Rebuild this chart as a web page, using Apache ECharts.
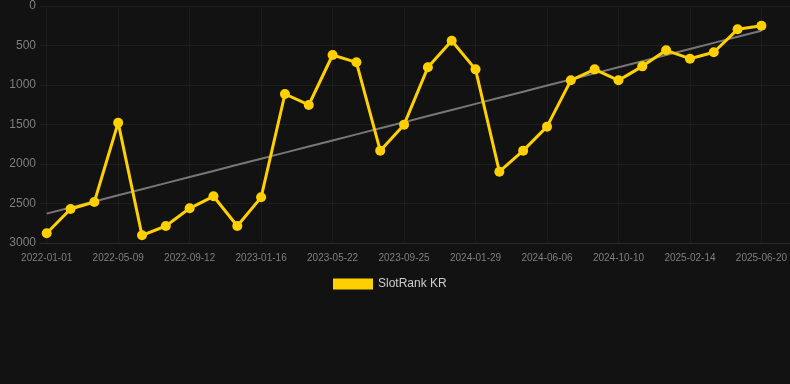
<!DOCTYPE html>
<html>
<head>
<meta charset="utf-8">
<script src="https://cdn.jsdelivr.net/npm/echarts@6/dist/echarts.min.js"></script>
<style>
html,body{margin:0;padding:0;background:#121212;}
#chart{width:790px;height:384px;}
</style>
</head>
<body>
<div id="chart"></div>
<script>
var dates = [
  '2022-01-01','2022-02-13','2022-03-27','2022-05-09','2022-06-20','2022-08-01',
  '2022-09-12','2022-10-24','2022-12-05','2023-01-16','2023-02-27','2023-04-10',
  '2023-05-22','2023-07-03','2023-08-14','2023-09-25','2023-11-06','2023-12-18',
  '2024-01-29','2024-03-12','2024-04-24','2024-06-06','2024-07-18','2024-08-29',
  '2024-10-10','2024-11-21','2025-01-03','2025-02-14','2025-03-28','2025-05-09',
  '2025-06-20'
];
var ranks = [
  2877, 2570, 2481, 1477, 2903, 2785,
  2561, 2409, 2785, 2422, 1114, 1253,
  620, 713, 1831, 1502, 776, 439,
  802, 2097, 1831, 1527, 941, 802,
  941, 764, 561, 667, 586, 295,
  249
];
var seriesName = 'SlotRank KR';
var yTicks = [0, 500, 1000, 1500, 2000, 2500, 3000];

// linear regression trend computed from the data
var n = ranks.length, sx = 0, sy = 0, sxy = 0, sxx = 0;
for (var i = 0; i < n; i++) { sx += i; sy += ranks[i]; sxy += i * ranks[i]; sxx += i * i; }
var slope = (n * sxy - sx * sy) / (n * sxx - sx * sx);
var icpt = (sy - slope * sx) / n;
var trend = ranks.map(function (_, i) { return icpt + slope * i; });

var chart = echarts.init(document.getElementById('chart'));
chart.setOption({
  backgroundColor: '#121212',
  animation: false,
  legend: {
    data: [seriesName],
    top: 278,
    left: 333,
    padding: 0,
    icon: 'rect',
    itemWidth: 40,
    itemHeight: 11,
    textStyle: { color: '#cccccc', fontSize: 12, fontFamily: 'Liberation Sans, Arial, sans-serif' }
  },
  grid: [
    { left: 46.7, right: 28.3, top: 6, bottom: 141 },
    { left: 40, right: 0, top: 6, bottom: 141 }
  ],
  xAxis: [
    {
      type: 'category', gridIndex: 0, data: dates, boundaryGap: false,
      axisLine: { show: false }, axisTick: { show: false },
      axisLabel: { interval: 2, color: '#7f7f7f', fontSize: 10, margin: 10,
        fontFamily: 'Liberation Sans, Arial, sans-serif' },
      splitLine: { show: true, interval: 2, lineStyle: { color: '#1c1c1c', width: 1 } }
    },
    {
      type: 'value', gridIndex: 1, min: 0, max: 1, position: 'bottom',
      axisLine: { show: true, onZero: false, lineStyle: { color: '#2c2c2c', width: 1 } },
      axisTick: { show: false }, axisLabel: { show: false }, splitLine: { show: false }
    }
  ],
  yAxis: [
    {
      type: 'value', gridIndex: 0, inverse: true, min: 0, max: 3000, interval: 500,
      axisLine: { show: false }, axisTick: { show: false }, axisLabel: { show: false },
      splitLine: { show: false }
    },
    {
      type: 'value', gridIndex: 1, inverse: true, min: 0, max: 3000, interval: 500,
      axisLine: { show: false }, axisTick: { show: false },
      axisLabel: { color: '#7f7f7f', fontSize: 12, margin: 4,
        fontFamily: 'Liberation Sans, Arial, sans-serif',
        formatter: function (v) { return yTicks.indexOf(v) >= 0 ? String(v) : ''; } },
      splitLine: { show: true, lineStyle: { color: '#1e1e1e', width: 1 } }
    }
  ],
  series: [
    {
      name: 'trend', type: 'line', xAxisIndex: 0, yAxisIndex: 0,
      data: trend, symbol: 'none', silent: true, z: 1,
      lineStyle: { color: '#777777', width: 2 }
    },
    {
      name: seriesName, type: 'line', xAxisIndex: 0, yAxisIndex: 0,
      data: ranks, symbol: 'circle', symbolSize: 10, z: 3,
      itemStyle: { color: '#FFD000' },
      lineStyle: { color: '#FFD000', width: 3 }
    }
  ]
});
</script>
</body>
</html>
